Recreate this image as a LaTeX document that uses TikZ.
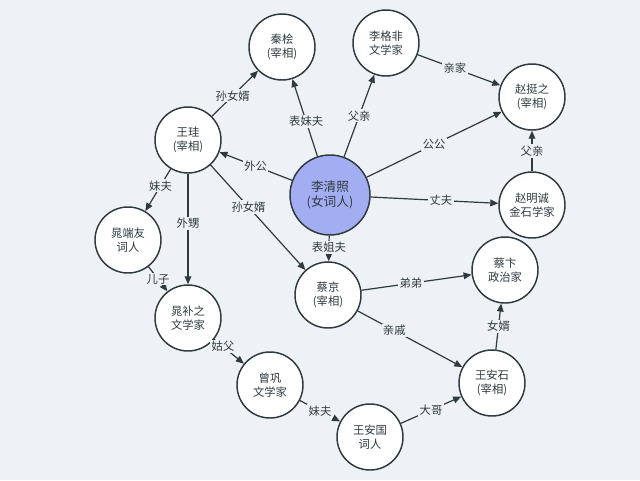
\documentclass[tikz,border=0pt]{standalone}
\usepackage{fontspec}
\setmainfont{Noto Sans CJK SC}
\usetikzlibrary{arrows.meta}
\definecolor{bg}{HTML}{EEF2F6}
\definecolor{ln}{HTML}{2E3A40}
\definecolor{cen}{HTML}{A3AEF2}
\tikzset{
 pnode/.style={circle,draw=ln,line width=1.1pt,fill=white,minimum size=66*0.75pt,inner sep=0pt,align=center,font=\fontsize{8.5}{10.5}\selectfont,text=ln},
 rel/.style={-{Triangle[length=6pt,width=5pt]},draw=ln,line width=0.9pt},
 lab/.style={fill=bg,inner sep=1pt,font=\fontsize{8.5}{10}\selectfont,text=ln}
}
\begin{document}
\begin{tikzpicture}[x=0.75pt,y=-0.75pt]
\fill[bg] (0,0) rectangle (640,480);
\useasboundingbox (0,0) rectangle (640,480);
\node[pnode,fill=cen,minimum size=80*0.75pt,font=\fontsize{9.5}{11.5}\selectfont] (lqz) at (330,195) {李清照\\(女词人)};
\node[pnode] (qh) at (282,47) {秦桧\\(宰相)};
\node[pnode] (lgf) at (386,43) {李格非\\文学家};
\node[pnode] (ztz) at (532,97) {赵挺之\\(宰相)};
\node[pnode] (wg) at (188,140) {王珪\\(宰相)};
\node[pnode] (zmc) at (532,205) {赵明诚\\金石学家};
\node[pnode] (cdy) at (128,240) {晁端友\\词人};
\node[pnode] (cj) at (328,295) {蔡京\\(宰相)};
\node[pnode] (cb) at (505,270) {蔡卞\\政治家};
\node[pnode] (cbz) at (188,318) {晁补之\\文学家};
\node[pnode] (was) at (492,383) {王安石\\(宰相)};
\node[pnode] (cg) at (270,385) {曾巩\\文学家};
\node[pnode] (wag) at (370,437) {王安国\\词人};

\draw[rel] (lqz) -- node[lab,pos=0.45] {表妹夫} (qh);
\draw[rel] (lqz) -- node[lab,pos=0.5] {父亲} (lgf);
\draw[rel] (lqz) -- node[lab,pos=0.5] {公公} (ztz);
\draw[rel] (lqz) -- node[lab,pos=0.5] {外公} (wg);
\draw[rel] (lqz) -- node[lab,pos=0.55] {丈夫} (zmc);
\draw[rel] (lqz) -- node[lab,pos=0.45] {表姐夫} (cj);
\draw[rel] (wg) -- node[lab,pos=0.45] {孙女婿} (qh);
\draw[rel] (lgf) -- node[lab,pos=0.45] {亲家} (ztz);
\draw[rel] (zmc) -- node[lab,pos=0.5] {父亲} (ztz);
\draw[rel] (wg) -- node[lab,pos=0.4] {妹夫} (cdy);
\draw[rel] (wg) -- node[lab,pos=0.45] {外甥} (cbz);
\draw[rel] (wg) -- node[lab,pos=0.4] {孙女婿} (cj);
\draw[rel] (cdy) -- node[lab,pos=0.5] {儿子} (cbz);
\draw[rel] (cj) -- node[lab,pos=0.45] {弟弟} (cb);
\draw[rel] (cj) -- node[lab,pos=0.35] {亲戚} (was);
\draw[rel] (was) -- node[lab,pos=0.5] {女婿} (cb);
\draw[rel] (cbz) -- node[lab,pos=0.3] {姑父} (cg);
\draw[rel] (cg) -- node[lab,pos=0.5] {妹夫} (wag);
\draw[rel] (wag) -- node[lab,pos=0.5] {大哥} (was);
\end{tikzpicture}
\end{document}
